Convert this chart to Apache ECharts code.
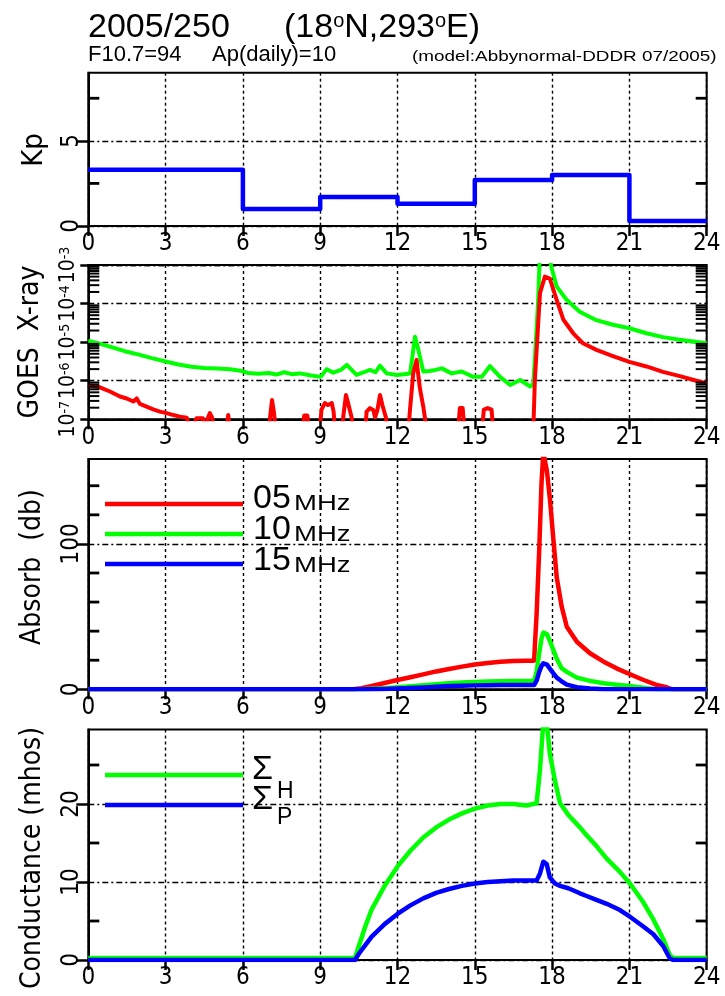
<!DOCTYPE html>
<html><head><meta charset="utf-8">
<script src="https://cdn.jsdelivr.net/npm/echarts@6/dist/echarts.min.js"></script>
<style>html,body{margin:0;padding:0;background:#fff}#c{width:725px;height:996px}</style>
</head><body><div id="c"></div>
<script>
// ---------------- DATA ----------------
// Kp (3-hour values, start hour of each interval)
const kpHours = [0, 3, 6, 9, 12, 15, 18, 21];
const kpValues = [3.3, 3.3, 1.0, 1.7, 1.3, 2.7, 3.0, 0.3];

// GOES X-ray long channel (green): hours and log10(flux)
const longHours = [0,0.5,1,1.5,2,2.5,3,3.5,4,4.5,5,5.5,5.9,6.2,6.6,7,7.3,7.6,7.9,8.21,8.6,9.02,9.25,9.51,9.8,10.03,10.41,10.7,10.93,11.15,11.32,11.58,11.97,12.25,12.49,12.68,12.81,13.0,13.25,13.47,13.72,14.1,14.49,14.94,15.27,15.59,15.98,16.37,16.76,17.15,17.27,17.33,17.46,17.53,17.85,17.97,18.18,18.56,19.07,19.72,20.36,21.0,21.66,22.3,22.96,24];
const longExp = [-4.96,-5.05,-5.15,-5.25,-5.33,-5.42,-5.5,-5.58,-5.64,-5.67,-5.68,-5.7,-5.74,-5.8,-5.82,-5.8,-5.84,-5.78,-5.83,-5.81,-5.86,-5.9,-5.7,-5.79,-5.72,-5.59,-5.85,-5.78,-5.72,-5.78,-5.61,-5.81,-5.85,-5.83,-5.81,-4.86,-5.2,-5.76,-5.75,-5.72,-5.68,-5.81,-5.76,-5.9,-5.9,-5.62,-5.9,-6.11,-5.98,-6.15,-6.08,-5.46,-3.91,-2.6,-2.6,-3.05,-3.56,-3.9,-4.21,-4.43,-4.55,-4.64,-4.77,-4.87,-4.94,-5.03];

// GOES X-ray short channel (red): hours and log10(flux); values below 1e-7 sit under the axis
const shortHours = [0,0.45,0.84,1.23,1.49,1.75,1.88,2.0,2.26,2.52,2.78,3.04,3.3,3.56,3.82,4.0,4.2,4.45,4.55,4.65,4.72,4.8,4.9,5.35,5.43,5.5,7.0,7.08,7.13,7.2,7.28,8.3,8.38,8.5,8.57,8.98,9.05,9.18,9.3,9.45,9.52,9.58,9.85,9.9,10.0,10.09,10.22,10.28,10.75,10.8,10.93,11.06,11.13,11.22,11.32,11.42,11.55,11.6,12.42,12.49,12.61,12.74,12.87,13.0,13.07,13.12,14.35,14.42,14.53,14.6,15.28,15.35,15.5,15.65,15.72,17.27,17.33,17.4,17.53,17.72,17.91,18.18,18.44,18.82,19.2,19.72,20.36,21.0,21.66,22.3,22.96,23.6,24];
const shortExp = [-6.12,-6.17,-6.28,-6.41,-6.46,-6.54,-6.46,-6.6,-6.67,-6.74,-6.8,-6.84,-6.89,-6.93,-6.96,-7.3,-6.97,-6.97,-7.3,-6.95,-6.84,-6.95,-7.3,-7.3,-6.89,-7.3,-7.3,-6.8,-6.5,-6.8,-7.3,-7.3,-6.9,-6.9,-7.3,-7.3,-6.75,-6.58,-6.63,-6.58,-6.8,-7.3,-7.3,-6.9,-6.37,-6.6,-6.95,-7.3,-7.3,-6.8,-6.71,-6.76,-6.95,-6.76,-6.37,-6.65,-6.95,-7.3,-7.3,-6.71,-5.81,-5.46,-6.2,-6.67,-6.98,-7.3,-7.3,-6.71,-6.71,-7.3,-7.3,-6.75,-6.71,-6.75,-7.3,-7.3,-6.0,-5.2,-3.73,-3.3,-3.35,-3.91,-4.42,-4.77,-5.03,-5.2,-5.36,-5.51,-5.63,-5.77,-5.88,-6.0,-6.07];
const goesTickExp = [-7, -6, -5, -4, -3];

// Absorption (db)
const absHours = [0,10.3,10.6,11,11.5,12,12.5,13,13.5,14,14.5,15,15.5,16,16.5,17,17.3,17.4,17.5,17.59,17.66,17.73,17.8,17.92,18.05,18.18,18.37,18.57,18.96,19.47,20.0,20.5,21.0,21.55,22.05,22.45,22.65,24];
const abs05 = [0,0,0.8,2.3,4.3,6.4,8.3,10.3,12.3,14,15.6,17,18.1,18.9,19.4,19.7,19.7,52,96,142,163,162,150,130,103,77,57,43,32.7,24.8,19,14.4,10.5,6.4,3,1.4,0,0];
const abs10 = [0,0,0,0.3,0.8,1.4,2.1,2.8,3.5,4.2,4.7,5.1,5.4,5.6,5.7,5.7,5.7,12,25,35,39,40,38,33,27,21,14.5,12,8,5.8,4.2,3.2,2.2,1.0,0,0,0,0];
const abs15 = [0,0,0,0,0.2,0.5,0.9,1.3,1.8,2.2,2.5,2.7,2.85,2.9,2.9,2.9,2.9,6,12,16,17.9,18,17,14,11,8,5.5,3.2,1.5,0.6,0,0,0,0,0,0,0,0];
const absLegend = ['05', '10', '15'];

// Conductance (mhos)
const condHours = [0,10.35,10.5,10.75,11,11.5,12,12.5,13,13.5,14,14.5,15,15.5,16,16.5,17,17.4,17.53,17.66,17.79,17.91,18.11,18.31,18.63,19.08,19.34,19.72,20.12,20.63,21.02,21.54,21.93,22.31,22.57,22.7,24];
const sigmaH = [0.25,0.25,1.8,4.3,6.5,9.5,12.0,14.0,15.7,17.0,18.0,18.8,19.4,19.8,20.0,20.0,19.8,20.1,24.4,30.5,30.5,26.5,23.0,20.1,18.6,17.0,16.0,14.6,13.0,11.3,9.8,7.4,5.2,2.7,0.6,0.25,0.25];
const sigmaP = [0,0,0.8,1.9,3.0,4.6,5.9,7.0,7.9,8.6,9.1,9.5,9.8,10.0,10.1,10.2,10.2,10.2,11.1,12.6,12.3,10.6,9.8,9.5,9.2,8.55,8.2,7.7,7.2,6.4,5.55,4.3,3.3,1.8,0.2,0,0];

// minor (unlabelled) tick values per panel
const kpMinor = [2.5, 7.5];
const absMinor = [20, 40, 60, 80, 120, 140];
const condMinor = [5, 15, 25];

// ---------------- CHART ----------------
const NARROW = "'Liberation Sans Narrow','DejaVu Sans Condensed','Liberation Sans',sans-serif";
const SANS = "'Liberation Sans',Arial,sans-serif";
const RED = '#ff0000', GREEN = '#00ff00', BLUE = '#0000ff', BLK = '#000';
const DOT = [3, 3];
const DASHDOT = [6, 3, 2, 3];

const L = 88.3, W = 618.4;
const gridBoxes = [
  { top: 72.7, height: 153.3, min: 0, max: 9 },
  { top: 265, height: 154.3, min: -7, max: -3 },
  { top: 459, height: 230.3, min: 0, max: 158.4 },
  { top: 729.5, height: 230.5, min: 0, max: 29.55 }
];
function yPix(gi, v) {
  const g = gridBoxes[gi];
  return g.top + g.height * (1 - (v - g.min) / (g.max - g.min));
}

const grids = gridBoxes.map(g => ({
  left: L, width: W, top: g.top, height: g.height,
  show: true, borderColor: BLK, borderWidth: 2, backgroundColor: 'transparent',
  outerBoundsMode: 'none', containLabel: false
}));

const xAxes = gridBoxes.map((g, i) => ({
  type: 'value', gridIndex: i, min: 0, max: 24, interval: 3, position: 'bottom',
  axisLine: { show: true, onZero: false, lineStyle: { color: BLK, width: 2 } },
  axisTick: { show: true, inside: false, length: 10, lineStyle: { color: BLK, width: 2.5 } },
  axisLabel: { show: true, color: BLK, fontSize: 24, fontFamily: NARROW, margin: 6, hideOverlap: false, showMinLabel: true, showMaxLabel: true },
  splitLine: { show: true, lineStyle: { color: BLK, width: 1.4, type: DOT } }
}));

function labelAxis(i, interval, vals) {
  const g = gridBoxes[i];
  return {
    type: 'value', gridIndex: i, position: 'left', min: g.min, max: g.max, interval: interval,
    axisLine: { show: true, onZero: false, lineStyle: { color: BLK, width: 2 } },
    axisTick: { show: true, inside: false, length: 12, customValues: vals, lineStyle: { color: BLK, width: 2.5 } },
    axisLabel: { show: true, customValues: vals, rotate: 90, color: BLK, fontSize: 24, fontFamily: NARROW, margin: 5, hideOverlap: false },
    splitLine: { show: true, lineStyle: { color: BLK, width: 1.4, type: DASHDOT } }
  };
}

const yAxes = [
  labelAxis(0, 5, [0, 5]),
  {
    type: 'log', logBase: 10, gridIndex: 1, position: 'left', min: 1e-7, max: 1e-3,
    axisLine: { show: true, onZero: false, lineStyle: { color: BLK, width: 2 } },
    axisTick: { show: true, inside: false, length: 8, lineStyle: { color: BLK, width: 2.5 } },
    axisLabel: { show: false },
    splitLine: { show: true, lineStyle: { color: BLK, width: 1.4, type: DASHDOT } }
  },
  labelAxis(2, 100, [0, 100]),
  labelAxis(3, 10, [0, 10, 20])
];

function line(xi, yi, data, color, w, extra) {
  return Object.assign({
    type: 'line', xAxisIndex: xi, yAxisIndex: yi, data: data, symbol: 'none', silent: true,
    clip: true, animation: false,
    lineStyle: { color: color, width: w, join: 'round', cap: 'butt' }
  }, extra || {});
}
const pairs = (xs, ys) => xs.map((x, i) => [x, ys[i]]);
const pow10 = (xs, es) => xs.map((x, i) => [x, Math.pow(10, es[i])]);

const kpData = pairs(kpHours, kpValues);
kpData.push([24, kpValues[kpValues.length - 1]]);

const series = [
  line(0, 0, kpData, BLUE, 4.5, { step: 'end' }),
  line(1, 1, pow10(longHours, longExp), GREEN, 4),
  line(1, 1, pow10(shortHours, shortExp), RED, 4),
  line(2, 2, pairs(absHours, abs05), RED, 4.5),
  line(2, 2, pairs(absHours, abs10), GREEN, 4.5),
  line(2, 2, pairs(absHours, abs15), BLUE, 4.5),
  line(3, 3, pairs(condHours, sigmaH), GREEN, 4.5),
  line(3, 3, pairs(condHours, sigmaP), BLUE, 4.5)
];

function txt(x, y, text, font, opts) {
  const o = opts || {};
  return {
    type: 'text', x: x, y: y, rotation: o.rotation || 0, scaleX: o.scaleX || 1, scaleY: o.scaleY || 1,
    silent: true, z: 10,
    style: Object.assign({
      text: text, font: font, fill: BLK,
      align: o.align || 'left', verticalAlign: o.va || 'middle',
      textAlign: o.align || 'left', textVerticalAlign: o.va || 'middle'
    }, o.rich ? { rich: o.rich } : {})
  };
}
function seg(x1, y1, x2, y2, color, w) {
  return { type: 'line', silent: true, z: 10, shape: { x1: x1, y1: y1, x2: x2, y2: y2 }, style: { stroke: color, lineWidth: w } };
}
function tickRect(x, y, w, h) {
  return { type: 'rect', silent: true, z: 20, shape: { x: x, y: y - h / 2, width: w, height: h }, style: { fill: BLK } };
}

const legendColors = [RED, GREEN, BLUE];
const legendY = [504, 534, 564];
const legendTextY = [499, 530, 561];

const graphic = [
  txt(88, 28, '2005/250', '34px ' + SANS),
  txt(284, 28, '{n|(18}{s|o}{n|N,293}{s|o}{n|E)}', '34px ' + SANS, {
    rich: {
      n: { fontSize: 34, fontFamily: SANS, fill: BLK, verticalAlign: 'bottom' },
      s: { fontSize: 20, fontFamily: SANS, fill: BLK, verticalAlign: 'top' }
    }
  }),
  txt(88, 55, 'F10.7=94', '22px ' + SANS),
  txt(212, 55, 'Ap(daily)=10', '22px ' + SANS),
  txt(412, 57, '(model:Abbynormal-DDDR 07/2005)', '14px ' + SANS, { scaleX: 1.35 }),
  txt(34, 150, 'Kp', '29px ' + NARROW, { rotation: Math.PI / 2, align: 'center' }),
  txt(31, 342, 'GOES  X-ray', '28px ' + NARROW, { rotation: Math.PI / 2, align: 'center' }),
  txt(33, 567, 'Absorb  (db)', '28px ' + NARROW, { rotation: Math.PI / 2, align: 'center' }),
  txt(33, 858, 'Conductance (mhos)', '28px ' + NARROW, { rotation: Math.PI / 2, align: 'center' })
];
// GOES decade labels (rotated, with superscript exponent)
goesTickExp.forEach(e => {
  graphic.push(txt(79, yPix(1, e), '{b|10}{s|' + e + '}', '21px ' + NARROW, {
    rotation: Math.PI / 2, align: 'center', va: 'bottom',
    rich: {
      b: { fontSize: 21, fontFamily: NARROW, fill: BLK, verticalAlign: 'bottom' },
      s: { fontSize: 14, fontFamily: NARROW, fill: BLK, verticalAlign: 'top' }
    }
  }));
});
absLegend.forEach((lab, i) => {
  graphic.push(seg(105, legendY[i], 243, legendY[i], legendColors[i], 4.5));
  graphic.push(txt(253, legendTextY[i], lab, '34px ' + SANS));
  graphic.push(txt(294, legendTextY[i] + 5, 'MHz', '22px ' + SANS, { scaleX: 1.25 }));
});
graphic.push(seg(105, 775, 243, 775, GREEN, 4.5));
graphic.push(seg(105, 805, 243, 805, BLUE, 4.5));
graphic.push(txt(252, 770, 'Σ', '34px ' + SANS));
graphic.push(txt(277, 792, 'H', '23px ' + SANS));
graphic.push(txt(252, 800, 'Σ', '34px ' + SANS));
graphic.push(txt(277, 818, 'P', '23px ' + SANS));

// inward minor ticks on both sides of each panel, placed on each panel's axis range
const logMinor = [];
for (let n = -7; n < -3; n++) for (let k = 2; k <= 9; k++) logMinor.push(n + Math.log10(k));
const minorSets = [kpMinor, logMinor, absMinor, condMinor];
const TL = 11;
for (let gi = 0; gi < minorSets.length; gi++) {
  const vals = minorSets[gi];
  const th = gi === 1 ? 2 : 2.8;
  for (let j = 0; j < vals.length; j++) {
    const y = yPix(gi, vals[j]);
    graphic.push(tickRect(L, y, TL, th));
    graphic.push(tickRect(L + W - TL, y, TL, th));
  }
}

const chart = echarts.init(document.getElementById('c'), null, { renderer: 'canvas' });
chart.setOption({
  animation: false,
  backgroundColor: '#fff',
  grid: grids,
  xAxis: xAxes,
  yAxis: yAxes,
  series: series,
  graphic: { elements: graphic }
});
</script>
</body></html>
